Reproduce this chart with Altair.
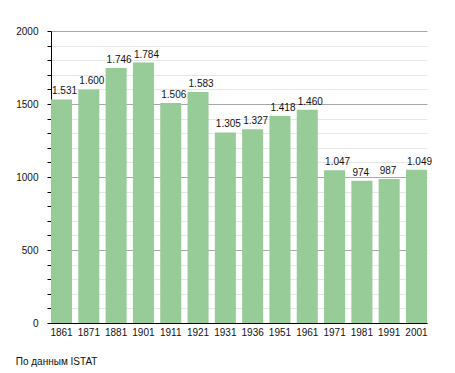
import altair as alt
import pandas as pd

years = ["1861", "1871", "1881", "1901", "1911", "1921", "1931", "1936",
         "1951", "1961", "1971", "1981", "1991", "2001"]
population = [1531, 1600, 1746, 1784, 1506, 1583, 1305, 1327,
              1418, 1460, 1047, 974, 987, 1049]
tick_values = list(range(0, 2001, 100))
source_text = "По данным  ISTAT"

df = pd.DataFrame({"year": years, "pop": population})

FONT = "Liberation Sans"

x_enc = alt.X("year:N", sort=None,
              scale=alt.Scale(paddingInner=0.23, paddingOuter=0),
              axis=alt.Axis(title=None, labelAngle=0, ticks=False,
                            domainColor="#000", domainWidth=1,
                            labelFont=FONT, labelFontSize=10,
                            labelColor="#111", labelPadding=4, grid=False))

y_enc = alt.Y("pop:Q", scale=alt.Scale(domain=[0, 2000], nice=False),
              axis=alt.Axis(title=None, values=tick_values,
                            labelExpr="datum.value % 500 === 0 ? datum.label : ''",
                            format="d", labelOverlap=False,
                            grid=True,
                            gridColor={"condition": {"test": "datum.value % 500 === 0", "value": "#a8a8a8"},
                                       "value": "#e6e6e6"},
                            tickColor="#000", tickSize=4,
                            domainColor="#000", domainWidth=1,
                            labelFont=FONT, labelFontSize=10, labelColor="#111",
                            labelPadding=9))

base = alt.Chart(df).encode(x=x_enc, y=y_enc)

bars = base.mark_bar(color="#97CB97")

labels = base.transform_calculate(
    lbl="replace(format(datum.pop, ','), ',', '.')"
).mark_text(align="left", baseline="bottom", dx=-9.5, dy=-3,
            font=FONT, fontSize=10, color="#111").encode(text="lbl:N")

chart = alt.layer(bars, labels).properties(
    width=376, height=292,
    padding={"left": 43, "top": 23, "right": 20, "bottom": 50},
    autosize=alt.AutoSizeParams(type="none"),
    title=alt.TitleParams(source_text, orient="bottom", anchor="start",
                          dx=0, offset=20, font=FONT, fontSize=10,
                          fontWeight="normal", color="#111"),
).configure_view(stroke=None)

chart.save("out.html", embed_options={"renderer": "svg", "actions": False})
